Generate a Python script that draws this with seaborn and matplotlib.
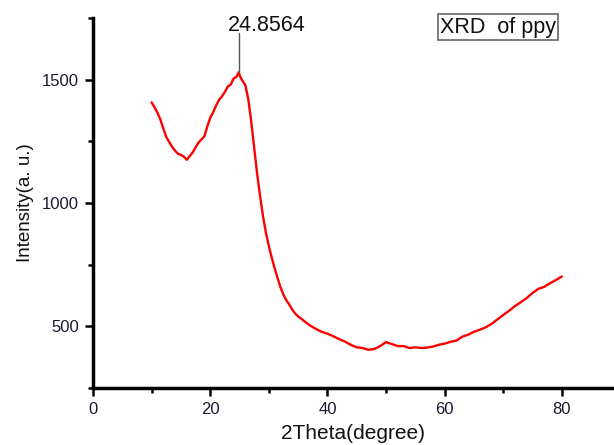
import matplotlib
matplotlib.use("Agg")
import matplotlib.pyplot as plt
from matplotlib.ticker import MultipleLocator
import seaborn as sns
import pandas as pd

two_theta = [10, 10.5, 11, 11.5, 12, 12.5, 13, 13.5, 14, 14.5, 15, 15.5, 16, 16.5, 17,
             17.5, 18, 18.5, 19, 19.5, 20, 20.5, 21, 21.5, 22, 22.5, 23, 23.5, 24, 24.5,
             24.86, 25.2, 25.6, 26, 26.5, 27, 27.5, 28, 28.5, 29, 29.5, 30, 30.5, 31, 31.5,
             32, 32.5, 33, 33.5, 34, 34.5, 35, 35.5, 36, 37, 38, 39, 40, 41, 42, 43, 44,
             45, 46, 47, 48, 49, 50, 51, 52, 53, 54, 55, 56, 57, 58, 59, 60, 61, 62, 63,
             64, 65, 66, 67, 68, 69, 70, 71, 72, 73, 74, 75, 76, 77, 78, 79, 80]
intensity = [1408, 1388, 1366, 1338, 1302, 1268, 1247, 1228, 1212, 1200, 1195, 1188, 1175,
             1190, 1205, 1225, 1245, 1258, 1270, 1310, 1345, 1368, 1395, 1418, 1432, 1450,
             1472, 1480, 1505, 1512, 1530, 1508, 1492, 1478, 1420, 1330, 1225, 1120, 1030,
             948, 880, 826, 778, 735, 695, 658, 628, 605, 588, 568, 552, 540, 532, 522, 504,
             490, 478, 470, 460, 448, 438, 425, 415, 412, 405, 408, 420, 436, 428, 420, 420,
             412, 415, 412, 414, 418, 425, 430, 437, 442, 458, 466, 478, 486, 496, 510, 528,
             546, 563, 582, 598, 615, 635, 652, 660, 675, 688, 702]

peak_pos = 24.8564
peak_int = 1530
peak_label = "24.8564"
legend_text = "XRD  of ppy"
x_label = "2Theta(degree)"
y_label = "Intensity(a. u.)"

sns.set_style("ticks")
plt.rcParams['font.family'] = ['Liberation Sans', 'DejaVu Sans']

df = pd.DataFrame({"two_theta": two_theta, "intensity": intensity})

fig = plt.figure(figsize=(6.14, 4.45), dpi=100)
ax = fig.add_axes([93 / 614, 57 / 445, 521 / 614, 370 / 445])

sns.lineplot(data=df, x="two_theta", y="intensity", ax=ax, color="#ff0000",
             linewidth=1.7, estimator=None, sort=False)

ax.set_xlim(0, 88.9)
ax.set_ylim(250, 1750)
ax.xaxis.set_major_locator(MultipleLocator(20))
ax.xaxis.set_minor_locator(MultipleLocator(10))
ax.yaxis.set_major_locator(MultipleLocator(500))
ax.yaxis.set_minor_locator(MultipleLocator(250))

for s in ["top", "right"]:
    ax.spines[s].set_visible(False)
for s in ["left", "bottom"]:
    ax.spines[s].set_linewidth(2.5)
    ax.spines[s].set_color("black")

ax.tick_params(axis="both", which="major", direction="out", length=6, width=1.8,
               labelsize=12, labelcolor="#1a1a30", color="black")
ax.tick_params(axis="both", which="minor", direction="out", length=3.5, width=1.8,
               color="black")
ax.tick_params(axis="x", which="major", pad=4)
ax.tick_params(axis="y", which="major", pad=4)

ax.set_xlabel(x_label, fontsize=15, labelpad=5, color="#111111")
ax.set_ylabel(y_label, fontsize=13.5, labelpad=6, color="#111111")

# peak annotation
ax.plot([peak_pos, peak_pos], [peak_int, 1688], color="#555555", linewidth=1)
ax.text(23.0, 1697, peak_label, fontsize=15.5, ha="left", va="baseline", color="#111111")

# legend box
fig.text(498 / 614, 1 - 27 / 445, legend_text, fontsize=15.5, ha="center", va="center",
         color="#111111",
         bbox=dict(boxstyle="square,pad=0.1", facecolor="white", edgecolor="#666666",
                   linewidth=1.2))

fig.savefig("out.png", dpi=100)
